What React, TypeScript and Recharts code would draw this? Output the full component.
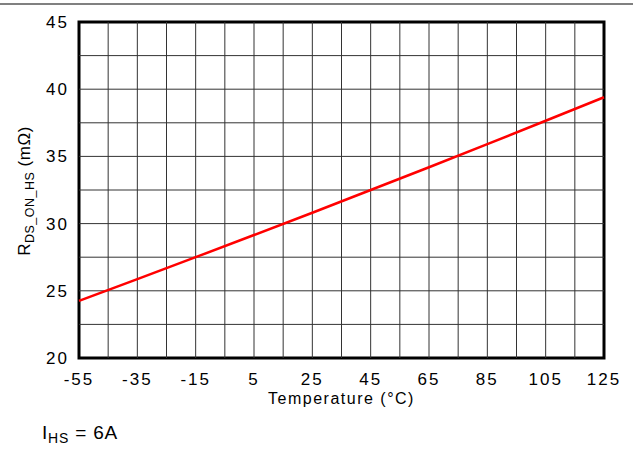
import { LineChart, Line, XAxis, YAxis, ReferenceLine, ReferenceArea } from 'recharts';

const temps = [-55, -35, -15, 5, 25, 45, 65, 85, 105, 125];
const rdsOn = [24.25, 25.87, 27.5, 29.15, 30.81, 32.5, 34.19, 35.91, 37.65, 39.4];
const xTicks = [-55, -35, -15, 5, 25, 45, 65, 85, 105, 125];
const yTicks = [20, 25, 30, 35, 40, 45];
const xGrid = [-45, -35, -25, -15, -5, 5, 15, 25, 35, 45, 55, 65, 75, 85, 95, 105, 115];
const yGrid = [22.5, 25, 27.5, 30, 32.5, 35, 37.5, 40, 42.5];

const data = temps.map((t, i) => ({ temp: t, rds: rdsOn[i] }));

const font = '"Liberation Sans", Arial, sans-serif';

function YTitle() {
  return (
    <text
      transform="translate(30, 191) rotate(-90)"
      textAnchor="middle"
      fontFamily={font}
      fontSize={17}
      letterSpacing={0.5}
      fill="#000"
    >
      R
      <tspan fontSize={12.5} dy={4}>DS_ON_HS</tspan>
      <tspan fontSize={17} dy={-4}> (mΩ)</tspan>
    </text>
  );
}

export default function App() {
  return (
    <div style={{ position: 'absolute', left: 0, top: 0, width: 633, height: 450, background: '#fff', fontFamily: font }}>
      <div style={{ position: 'absolute', left: 0, top: 3, width: 633, height: 2, background: '#808080' }} />
      <LineChart width={633} height={450} data={data} margin={{ top: 22, right: 29, left: 0, bottom: 0 }}>
        {xGrid.map(v => (
          <ReferenceLine key={'x' + v} x={v} stroke="#333" strokeWidth={1} />
        ))}
        {yGrid.map(v => (
          <ReferenceLine key={'y' + v} y={v} stroke="#333" strokeWidth={1} />
        ))}
        <XAxis
          dataKey="temp"
          type="number"
          domain={[-55, 125]}
          ticks={xTicks}
          height={92}
          axisLine={false}
          tickLine={false}
          tickSize={6}
          tickMargin={9}
          fontSize={17}
          tick={{ fill: '#000', fontSize: 17, fontFamily: font, letterSpacing: 2 }}
          label={{ value: 'Temperature (°C)', position: 'insideTop', offset: 35, fill: '#000', fontSize: 16, fontFamily: font, letterSpacing: 1.5 }}
        />
        <YAxis
          type="number"
          domain={[20, 45]}
          ticks={yTicks}
          width={79}
          axisLine={false}
          tickLine={false}
          tickSize={8}
          tickMargin={2}
          fontSize={17}
          tick={{ fill: '#000', fontSize: 17, fontFamily: font, letterSpacing: 2 }}
          label={<YTitle />}
        />
        <Line
          type="linear"
          dataKey="rds"
          stroke="#ff0000"
          strokeWidth={2.5}
          dot={false}
          isAnimationActive={false}
        />
        <ReferenceArea x1={-55} x2={125} y1={20} y2={45} fill="none" stroke="#000" strokeWidth={3} />
      </LineChart>
      <div style={{ position: 'absolute', left: 42, top: 423, fontSize: 19, color: '#000', letterSpacing: 0.8, lineHeight: '20px' }}>
        I<sub style={{ fontSize: 14, verticalAlign: '-4px' }}>HS</sub> = 6A
      </div>
    </div>
  );
}
